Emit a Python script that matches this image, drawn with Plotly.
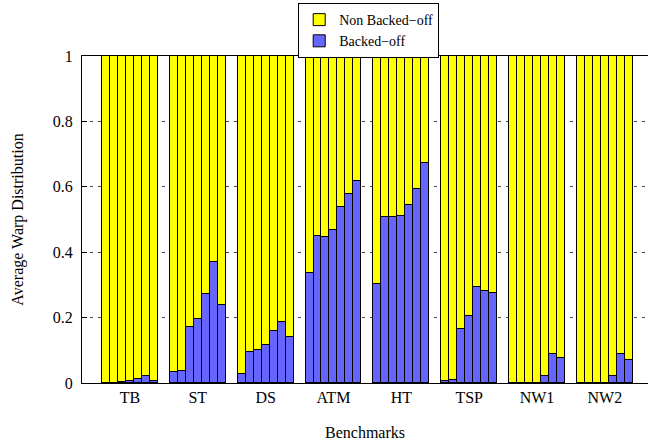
import plotly.graph_objects as go

benchmarks = ["TB", "ST", "DS", "ATM", "HT", "TSP", "NW1", "NW2"]
backed_off = [
    [0.001, 0.001, 0.002, 0.005, 0.011, 0.022, 0.005],   # TB
    [0.033, 0.037, 0.172, 0.195, 0.273, 0.371, 0.238],   # ST
    [0.029, 0.094, 0.102, 0.117, 0.158, 0.186, 0.142],   # DS
    [0.335, 0.451, 0.445, 0.469, 0.539, 0.577, 0.617],   # ATM
    [0.302, 0.507, 0.507, 0.510, 0.543, 0.592, 0.674],   # HT
    [0.005, 0.009, 0.164, 0.204, 0.293, 0.280, 0.274],   # TSP
    [0.000, 0.000, 0.000, 0.000, 0.020, 0.090, 0.076],   # NW1
    [0.000, 0.000, 0.000, 0.000, 0.020, 0.088, 0.070],   # NW2
]
y_ticks = [0, 0.2, 0.4, 0.6, 0.8, 1]
y_tick_labels = ["0", "0.2", "0.4", "0.6", "0.8", "1"]

group_step = 8.5
xs, b_vals, nb_vals = [], [], []
for g, vals in enumerate(backed_off):
    for j, v in enumerate(vals):
        xs.append(g * group_step + j)
        b_vals.append(v)
        nb_vals.append(1 - v)
centers = [g * group_step + 3 for g in range(len(benchmarks))]

font = "Liberation Serif, Times New Roman, DejaVu Serif, serif"
fig = go.Figure()
fig.add_trace(go.Bar(x=xs, y=b_vals, width=1, name="Backed\u2212off",
                     marker=dict(color="#6666ff", line=dict(color="black", width=1))))
fig.add_trace(go.Bar(x=xs, y=nb_vals, width=1, name="Non Backed\u2212off",
                     marker=dict(color="#ffff00", line=dict(color="black", width=1))))

fig.update_layout(
    width=648, height=444,
    barmode="stack", bargap=0,
    plot_bgcolor="white", paper_bgcolor="white",
    margin=dict(l=82, r=0, t=56, b=61, autoexpand=False),
    font=dict(family=font, size=16, color="black"),
    legend=dict(x=0.382, y=1.162, xanchor="left", yanchor="top",
                traceorder="reversed", bordercolor="black", borderwidth=1,
                font=dict(family=font, size=14), tracegroupgap=0),
    xaxis=dict(range=[-3.0, 67.9], tickvals=centers, ticktext=benchmarks,
               showgrid=False, zeroline=False, showline=True, linecolor="black",
               linewidth=1, mirror=True, ticks="", automargin=False,
               tickfont=dict(family=font, size=16),
               title=dict(text="Benchmarks", font=dict(family=font, size=16), standoff=21)),
    yaxis=dict(range=[0, 1], tickvals=y_ticks, ticktext=y_tick_labels,
               showgrid=True, gridcolor="#444", griddash="3px,5px", gridwidth=1,
               zeroline=False, showline=True, linecolor="black", linewidth=1,
               ticks="inside", ticklen=5, tickcolor="black", automargin=False,
               ticklabelstandoff=5,
               tickfont=dict(family=font, size=16),
               title=dict(text="Average Warp Distribution", font=dict(family=font, size=16), standoff=25)),
)

fig.write_html("out.html", config={"displayModeBar": False},
               post_script="document.body.style.margin='0';")
